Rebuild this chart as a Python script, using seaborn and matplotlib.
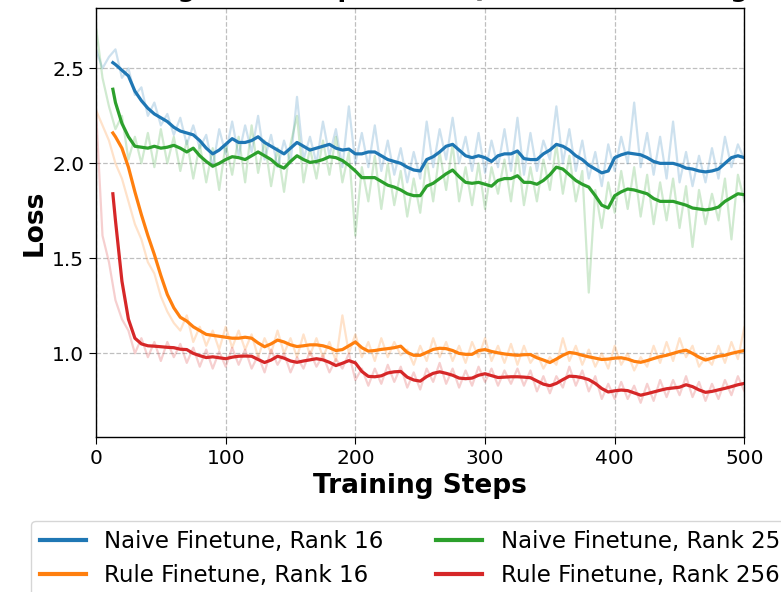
import matplotlib
matplotlib.use("Agg")
import matplotlib.pyplot as plt
import seaborn as sns

# ---------------- data ----------------
raw_steps = list(range(0, 501, 5))
smooth_steps = [13] + list(range(15, 501, 5))

labels = ["Naive Finetune, Rank 16", "Rule Finetune, Rank 16",
          "Naive Finetune, Rank 256", "Rule Finetune, Rank 256"]

naive16_raw = [
    2.60, 2.50, 2.56, 2.60, 2.45, 2.50, 2.36, 2.40, 2.25, 2.32,
    2.20, 2.26, 2.15, 2.24, 2.10, 2.20, 2.08, 2.15, 1.98, 2.18,
    2.05, 2.22, 2.04, 2.20, 2.06, 2.25, 2.02, 2.15, 1.98, 2.12,
    2.00, 2.35, 2.02, 2.14, 2.00, 2.22, 2.04, 2.18, 1.98, 2.30,
    2.00, 2.16, 1.98, 2.20, 1.96, 2.12, 1.94, 2.08, 1.90, 2.06,
    1.92, 2.22, 1.98, 2.18, 2.02, 2.24, 2.00, 2.14, 1.96, 2.16,
    1.95, 2.12, 1.98, 2.18, 1.96, 2.24, 1.94, 2.16, 1.96, 2.12,
    2.02, 2.30, 2.00, 2.18, 1.96, 2.12, 1.92, 2.06, 1.88, 2.10,
    1.96, 2.14, 2.00, 2.32, 1.98, 2.16, 1.94, 2.14, 1.92, 2.22,
    1.90, 2.06, 1.88, 2.04, 1.90, 2.08, 1.92, 2.14, 1.98, 2.10,
    2.02]
naive256_raw = [
    2.72, 2.45, 2.30, 2.18, 2.25, 2.02, 2.14, 2.00, 2.16, 1.98,
    2.18, 2.00, 2.14, 1.96, 2.12, 1.92, 2.10, 1.90, 2.08, 1.86,
    2.10, 1.94, 2.14, 1.90, 2.20, 1.95, 2.12, 1.88, 2.08, 1.85,
    2.10, 2.25, 1.90, 2.08, 1.92, 2.12, 1.94, 2.14, 1.90, 2.06,
    1.62, 1.98, 1.80, 2.04, 1.76, 2.00, 1.78, 1.96, 1.72, 1.92,
    1.74, 2.02, 1.80, 2.06, 1.86, 2.10, 1.80, 1.98, 1.78, 2.00,
    1.76, 1.98, 1.84, 2.02, 1.80, 2.06, 1.78, 1.98, 1.80, 2.02,
    1.86, 2.10, 1.84, 2.04, 1.80, 1.96, 1.32, 1.86, 1.66, 1.90,
    1.74, 1.96, 1.76, 1.98, 1.72, 1.94, 1.68, 1.90, 1.70, 1.92,
    1.66, 1.88, 1.56, 1.86, 1.68, 1.84, 1.70, 1.92, 1.60, 1.94,
    1.80]
rule16_raw = [
    2.28, 2.20, 2.12, 2.00, 1.92, 1.80, 1.68, 1.60, 1.48, 1.42,
    1.30, 1.22, 1.16, 1.12, 1.20, 1.06, 1.14, 1.04, 1.12, 1.02,
    1.14, 1.03, 1.12, 1.02, 1.10, 0.98, 1.08, 1.00, 1.12, 1.00,
    1.08, 0.98, 1.10, 0.99, 1.08, 0.98, 1.06, 0.96, 1.20, 1.00,
    1.10, 0.98, 1.06, 0.96, 1.08, 0.98, 1.06, 0.99, 1.02, 0.94,
    1.04, 0.96, 1.08, 0.98, 1.06, 0.96, 1.04, 0.95, 1.06, 0.98,
    1.08, 0.96, 1.04, 0.95, 1.05, 0.94, 1.04, 0.95, 1.00, 0.92,
    0.98, 0.94, 1.08, 0.96, 1.04, 0.94, 1.02, 0.93, 1.00, 0.92,
    1.04, 0.94, 1.00, 0.91, 0.98, 0.93, 1.04, 0.95, 1.06, 0.96,
    1.08, 0.98, 1.04, 0.93, 0.98, 0.94, 1.04, 0.95, 1.06, 0.97,
    1.14]
rule256_raw = [
    2.28, 1.62, 1.48, 1.28, 1.18, 1.12, 1.00, 1.08, 0.98, 1.06,
    0.96, 1.06, 0.98, 1.05, 0.95, 1.03, 0.93, 1.02, 0.92, 1.01,
    0.93, 1.03, 0.94, 1.02, 0.92, 0.99, 0.90, 1.02, 0.94, 1.00,
    0.90, 0.98, 0.92, 1.01, 0.93, 0.99, 0.90, 0.97, 0.92, 1.00,
    0.86, 0.92, 0.83, 0.92, 0.84, 0.94, 0.85, 0.93, 0.82, 0.90,
    0.81, 0.92, 0.85, 0.95, 0.84, 0.92, 0.82, 0.91, 0.83, 0.93,
    0.85, 0.92, 0.83, 0.91, 0.84, 0.92, 0.83, 0.91, 0.80, 0.88,
    0.79, 0.88, 0.82, 0.93, 0.83, 0.91, 0.80, 0.88, 0.76, 0.84,
    0.76, 0.85, 0.76, 0.83, 0.74, 0.84, 0.75, 0.86, 0.77, 0.86,
    0.78, 0.88, 0.77, 0.85, 0.75, 0.84, 0.76, 0.86, 0.78, 0.88,
    0.80]

naive16_smooth = [
    2.53, 2.52, 2.49, 2.46, 2.38, 2.33, 2.29, 2.26, 2.24, 2.22,
    2.19, 2.17, 2.16, 2.15, 2.12, 2.08, 2.05, 2.07, 2.10, 2.13,
    2.11, 2.11, 2.12, 2.14, 2.11, 2.09, 2.07, 2.05, 2.08, 2.11,
    2.09, 2.07, 2.08, 2.09, 2.10, 2.08, 2.07, 2.075, 2.05, 2.05,
    2.06, 2.06, 2.04, 2.02, 2.01, 2.00, 1.98, 1.965, 1.96, 2.02,
    2.035, 2.06, 2.09, 2.10, 2.07, 2.04, 2.03, 2.04, 2.03, 2.01,
    2.04, 2.05, 2.05, 2.065, 2.025, 2.02, 2.02, 2.05, 2.07, 2.10,
    2.09, 2.07, 2.04, 2.02, 1.99, 1.97, 1.95, 1.96, 2.03, 2.045,
    2.055, 2.05, 2.045, 2.03, 2.01, 2.00, 2.00, 2.00, 1.99, 1.975,
    1.97, 1.96, 1.955, 1.96, 1.97, 2.00, 2.03, 2.04, 2.03]
naive256_smooth = [
    2.39, 2.32, 2.21, 2.14, 2.09, 2.085, 2.08, 2.09, 2.08, 2.085,
    2.095, 2.08, 2.06, 2.08, 2.04, 2.01, 1.985, 2.00, 2.02, 2.035,
    2.03, 2.02, 2.04, 2.06, 2.04, 2.02, 1.99, 1.975, 2.01, 2.04,
    2.02, 2.005, 2.01, 2.02, 2.035, 2.03, 2.015, 1.99, 1.96, 1.925,
    1.925, 1.925, 1.905, 1.885, 1.875, 1.86, 1.84, 1.83, 1.83, 1.88,
    1.895, 1.92, 1.945, 1.965, 1.93, 1.90, 1.895, 1.90, 1.89, 1.88,
    1.91, 1.92, 1.92, 1.935, 1.90, 1.90, 1.89, 1.91, 1.94, 1.98,
    1.97, 1.94, 1.91, 1.89, 1.875, 1.83, 1.78, 1.765, 1.83, 1.85,
    1.865, 1.86, 1.85, 1.84, 1.815, 1.80, 1.80, 1.80, 1.79, 1.78,
    1.765, 1.76, 1.755, 1.76, 1.77, 1.80, 1.82, 1.84, 1.835]
rule16_smooth = [
    2.16, 2.14, 2.08, 1.98, 1.85, 1.73, 1.62, 1.52, 1.41, 1.31,
    1.24, 1.19, 1.17, 1.14, 1.12, 1.10, 1.095, 1.09, 1.085, 1.08,
    1.08, 1.085, 1.08, 1.055, 1.035, 1.05, 1.07, 1.06, 1.045, 1.036,
    1.04, 1.045, 1.045, 1.04, 1.03, 1.015, 1.02, 1.04, 1.06, 1.03,
    1.012, 1.015, 1.021, 1.025, 1.03, 1.038, 1.005, 0.99, 0.99, 1.005,
    1.021, 1.027, 1.025, 1.015, 1.0, 0.995, 0.995, 1.015, 1.02, 1.01,
    1.003, 0.997, 0.993, 0.99, 0.993, 0.994, 0.977, 0.965, 0.952, 0.97,
    0.99, 1.005, 1.0, 0.99, 0.982, 0.975, 0.968, 0.97, 0.975, 0.977,
    0.97, 0.958, 0.953, 0.962, 0.973, 0.983, 0.99, 1.0, 1.01, 1.017,
    1.0, 0.98, 0.965, 0.975, 0.985, 0.99, 1.0, 1.008, 1.015]
rule256_smooth = [
    1.84, 1.70, 1.38, 1.18, 1.08, 1.05, 1.04, 1.038, 1.035, 1.032,
    1.03, 1.022, 1.02, 1.0, 0.988, 0.978, 0.982, 0.977, 0.972, 0.98,
    0.985, 0.986, 0.985, 0.968, 0.952, 0.965, 0.985, 0.975, 0.96, 0.953,
    0.96, 0.966, 0.972, 0.966, 0.953, 0.936, 0.948, 0.962, 0.95, 0.905,
    0.879, 0.877, 0.882, 0.897, 0.903, 0.905, 0.875, 0.86, 0.854, 0.878,
    0.895, 0.903, 0.895, 0.885, 0.87, 0.867, 0.87, 0.885, 0.893, 0.883,
    0.873, 0.875, 0.877, 0.877, 0.875, 0.872, 0.855, 0.838, 0.83, 0.842,
    0.862, 0.88, 0.878, 0.872, 0.862, 0.842, 0.815, 0.797, 0.803, 0.807,
    0.804, 0.792, 0.78, 0.788, 0.797, 0.806, 0.814, 0.818, 0.822, 0.835,
    0.825, 0.808, 0.795, 0.8, 0.808, 0.816, 0.825, 0.835, 0.842]

x_ticks = [0, 100, 200, 300, 400, 500]
y_ticks = [1.0, 1.5, 2.0, 2.5]
title_text = "Training Loss Comparison (Qwen2.5 Finetuning)"

# ---------------- plot ----------------
W, H = 781, 592
fig = plt.figure(figsize=(W / 100, H / 100), dpi=100)
ax = fig.add_axes([96 / W, 1 - 437 / H, (744.4 - 96) / W, (437 - 8.3) / H])

colors = ["#1f77b4", "#ff7f0e", "#2ca02c", "#d62728"]
raws = [naive16_raw, rule16_raw, naive256_raw, rule256_raw]
smooths = [naive16_smooth, rule16_smooth, naive256_smooth, rule256_smooth]

for raw, col in zip(raws, colors):
    sns.lineplot(x=raw_steps, y=raw, ax=ax, color=col, alpha=0.22,
                 linewidth=1.6, legend=False)
for sm, col, lab in zip(smooths, colors, labels):
    sns.lineplot(x=smooth_steps, y=sm, ax=ax, color=col, linewidth=2.3,
                 label=lab)

ax.set_xlim(0, 500)
ax.set_ylim(0.56, 2.816)
ax.set_xticks(x_ticks)
ax.set_yticks(y_ticks)
ax.tick_params(labelsize=14.5, length=5)
ax.grid(True, linestyle="--", color="gray", alpha=0.5, linewidth=0.9)
for s in ax.spines.values():
    s.set_color("black")
    s.set_linewidth(1.0)

ax.set_xlabel("Training Steps", fontsize=19, fontweight="bold", labelpad=4)
ax.set_ylabel("Loss", fontsize=19, fontweight="bold", labelpad=3)

fig.text(420 / W, 1 + 2.5 / H, title_text, ha="center", va="baseline",
         fontsize=18, fontweight="bold")

handles, labs = ax.get_legend_handles_labels()
if ax.get_legend() is not None:
    ax.get_legend().remove()
leg = fig.legend(handles, labs, loc="upper left",
                 bbox_to_anchor=(31 / W, 1 - 520.7 / H),
                 bbox_transform=fig.transFigure, ncol=2, fontsize=16.5,
                 frameon=True, borderaxespad=0, columnspacing=2.3)
for h in leg.get_lines():
    h.set_linewidth(3.0)

fig.savefig("out.png", dpi=100)
